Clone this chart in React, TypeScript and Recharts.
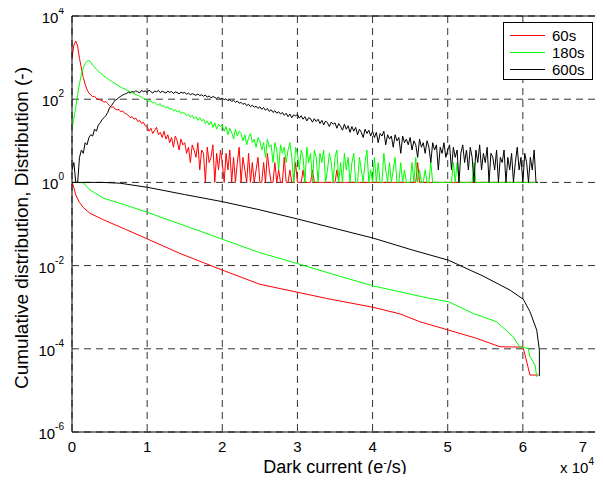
import React from 'react';
import { LineChart, Line, XAxis, YAxis, CartesianGrid, ReferenceLine } from 'recharts';

const FONT = '"Liberation Sans", Arial, Helvetica, sans-serif';

// histogram bins (dark current, e-/s)
const binStep = 250;
const binCount = 249;
const binX: number[] = Array.from({ length: binCount }, (_, i) => i * binStep);

const hist60s = [
  1000, 2000, 2500, 1900, 950, 560, 330, 230, 170, 140,
  128, 115, 118, 104, 100, 96, 92, 85, 88, 78,
  70, 63, 66, 58, 55, 57, 50, 52, 46, 44,
  41, 36, 38, 33, 35, 29, 31, 26, 28, 23,
  22, 17, 20, 15, 18, 21, 14, 16, 12, 17,
  11, 14, 9, 12, 7, 13, 10, 6, 11, 8,
  9, 5, 7, 3, 8, 6, 4, 9, 2, 6,
  5, 1, 7, 3, 4, 8, 1, 5, 2, 6,
  3, 1, 5, 2, 6, 1, 4, 1, 3, 7,
  1, 4, 2, 1, 5, 1, 3, 1, 2, 4,
  1, 1, 3, 1, 5, 2, 1, 1, 3, 1,
  2, 1, 1, 4, 1, 1, 2, 1, 1, 3,
  1, 1, 1, 2, 1, 1, 1, 1, 2, 1,
  1, 1, 1, 1, 1, 1, 1, 1, 1, 1,
  1, 2, 1, 1, 1, 1, 1, 1, 1, 1,
  1, 1, 1, 1, 1, 1, 1, 1, 1, 1,
  1, 1, 1, 1, 1, 1, 1, 1, 1, 1,
  1, 1, 1, 1, 1, 1, 1, 1, 1, 1,
  1, 1, 1, 1, 3, 1, 1, 1, 1, 1,
  1, 1, 1, 1, 1, 1, 1, 1, 1, 1,
  1, 1, 1, 1, 1, 1, 1, 1, 1, 1,
  1, 1, 1, 1, 1, 1, 1, 1, 1, 1,
  1, 1, 1, 1, 1, 1, 1, 1, 1, 1,
  1, 1, 1, 1, 1, 1, 1, 1, 1, 1,
  1, 1, 1, 1, 1, 1, 1, 1, 1,
];

const hist180s = [
  20, 35, 65, 130, 240, 400, 560, 720, 820, 850,
  780, 650, 590, 520, 470, 430, 395, 360, 335, 310,
  290, 270, 250, 238, 222, 205, 195, 182, 178, 165,
  158, 150, 142, 138, 128, 124, 118, 112, 104, 99,
  94, 88, 92, 80, 84, 76, 72, 78, 66, 70,
  62, 66, 57, 60, 52, 56, 49, 53, 45, 48,
  46, 40, 44, 37, 41, 34, 38, 31, 36, 30,
  33, 26, 30, 24, 29, 21, 27, 19, 25, 22,
  24, 17, 22, 14, 20, 16, 11, 19, 13, 17,
  15, 10, 14, 8, 12, 15, 9, 11, 7, 12,
  10, 6, 9, 4, 11, 7, 8, 3, 9, 6,
  2, 8, 5, 7, 3, 6, 9, 4, 1, 7,
  5, 2, 6, 4, 1, 7, 3, 5, 1, 6,
  4, 1, 5, 3, 6, 1, 2, 5, 3, 1,
  4, 6, 1, 3, 1, 5, 2, 4, 1, 3,
  5, 1, 1, 4, 2, 1, 3, 6, 1, 2,
  1, 4, 1, 3, 1, 1, 5, 2, 1, 3,
  1, 2, 4, 1, 1, 3, 1, 2, 1, 1,
  1, 3, 1, 4, 1, 2, 1, 1, 2, 1,
  1, 3, 1, 1, 1, 1, 1, 1, 1, 1,
  1, 1, 1, 3, 1, 3, 1, 1, 1, 1,
  1, 1, 1, 1, 3, 1, 1, 1, 1, 1,
  1, 1, 1, 1, 1, 1, 1, 1, 1, 1,
  1, 1, 1, 1, 1, 1, 1, 1, 1, 1,
  1, 1, 1, 1, 1, 1, 1, 1, 1,
];

const hist600s = [
  2, 3, 1, 1, 4, 6, 5, 9, 8, 12,
  14, 13, 19, 17, 24, 27, 32, 36, 40, 48,
  62, 70, 82, 95, 100, 110, 118, 126, 132, 138,
  148, 140, 156, 146, 160, 150, 142, 162, 152, 158,
  146, 165, 152, 140, 158, 150, 162, 144, 155, 148,
  140, 156, 146, 152, 138, 150, 144, 135, 148, 140,
  145, 132, 140, 128, 136, 130, 124, 134, 122, 128,
  118, 126, 112, 120, 108, 116, 110, 104, 112, 100,
  106, 97, 102, 92, 98, 88, 94, 84, 90, 80,
  84, 75, 80, 70, 76, 66, 72, 64, 68, 60,
  66, 57, 63, 54, 60, 51, 56, 48, 53, 46,
  50, 44, 48, 41, 46, 38, 44, 36, 42, 40,
  43, 35, 40, 33, 38, 30, 36, 34, 28, 34,
  29, 33, 26, 31, 24, 30, 27, 22, 28, 25,
  27, 20, 26, 22, 18, 25, 19, 23, 16, 22,
  17, 21, 14, 19, 16, 12, 19, 15, 18, 13,
  17, 12, 16, 9, 15, 13, 17, 8, 14, 11,
  13, 7, 14, 10, 12, 5, 13, 9, 11, 8,
  12, 6, 10, 8, 4, 11, 7, 9, 5, 10,
  7, 3, 9, 6, 8, 2, 7, 5, 9, 4,
  6, 8, 2, 7, 4, 6, 1, 5, 8, 3,
  6, 2, 7, 4, 1, 6, 3, 8, 2, 5,
  3, 7, 1, 5, 4, 2, 6, 1, 4, 3,
  6, 1, 4, 2, 5, 1, 3, 7, 2, 4,
  1, 5, 3, 1, 4, 2, 6, 1, 1,
];

// cumulative distributions
const cum60sX = [0, 250, 500, 1000, 1500, 2400, 4200, 7000, 10000, 14400, 20000, 25000, 30000, 33900, 40000, 43650, 46300, 50100, 53860, 56960, 59620, 60000, 60290, 60950, 62060];
const cum60sY = [1, 0.75, 0.5, 0.33, 0.25, 0.18, 0.126, 0.076, 0.044, 0.0195, 0.0078, 0.00355, 0.00229, 0.00162, 0.001, 0.00069, 0.000447, 0.000282, 0.000178, 0.000112, 0.00011, 0.00011, 0.000071, 0.0000234, 0.0000234];

const cum180sX = [0, 1500, 2400, 4170, 7000, 10070, 15000, 19920, 25000, 30000, 35000, 40100, 43650, 47650, 50100, 53400, 56500, 58700, 59620, 60700, 60950, 61620, 61850];
const cum180sY = [1, 0.98, 0.66, 0.417, 0.29, 0.19, 0.091, 0.0437, 0.0204, 0.0112, 0.006, 0.00324, 0.00234, 0.00162, 0.00135, 0.00071, 0.000447, 0.000195, 0.00011, 0.000102, 0.000065, 0.000041, 0.000021];

const cum600sX = [0, 4000, 6400, 10070, 15000, 19920, 25000, 30000, 35000, 40100, 45400, 50100, 54700, 58300, 60060, 60950, 61850, 62200, 62200];
const cum600sY = [1, 1, 0.955, 0.76, 0.51, 0.347, 0.219, 0.132, 0.078, 0.0457, 0.0234, 0.0135, 0.0056, 0.00257, 0.00155, 0.00078, 0.00028, 0.000093, 0.000022];

const xTicks = [0, 10000, 20000, 30000, 40000, 50000, 60000, 70000];
const yTicks = [1e-6, 1e-4, 1e-2, 1, 1e2, 1e4];

const seriesNames = ['60s', '180s', '600s'];
const seriesColors = ['#ff0000', '#00ff00', '#000000'];

const toPoints = (xs: number[], ys: number[]) => xs.map((x, i) => ({ x, y: ys[i] }));

const histSeries = [hist60s, hist180s, hist600s].map((ys) => toPoints(binX, ys));
const cumSeries = [
  toPoints(cum60sX, cum60sY),
  toPoints(cum180sX, cum180sY),
  toPoints(cum600sX, cum600sY),
];

const YTick = (props: any) => {
  const { x, y, payload } = props;
  const exp = Math.round(Math.log10(payload.value));
  return (
    <text x={x} y={y} textAnchor="end" fontSize={15} fill="#000" fontFamily={FONT}>
      <tspan dy={7}>10</tspan>
      <tspan dy={-9} fontSize={10}>{exp}</tspan>
    </text>
  );
};

const XTick = (props: any) => {
  const { x, y, payload } = props;
  return (
    <text x={x} y={y} dy={12} textAnchor="middle" fontSize={15} fill="#000" fontFamily={FONT}>
      {payload.value / 10000}
    </text>
  );
};

const XLabel = (props: any) => {
  const { viewBox } = props;
  const cx = viewBox.x + viewBox.width / 2;
  const right = viewBox.x + viewBox.width - 4;
  const baseY = viewBox.y + 41;
  return (
    <g fontFamily={FONT} fill="#000">
      <text x={cx} y={baseY} textAnchor="middle" fontSize={18}>
        <tspan>Dark current (e</tspan>
        <tspan dy={-7} fontSize={11}>-</tspan>
        <tspan dy={7}>/s)</tspan>
      </text>
      <text x={right} y={baseY} textAnchor="end" fontSize={15}>
        <tspan>x 10</tspan>
        <tspan dy={-8} fontSize={10}>4</tspan>
      </text>
    </g>
  );
};

const Y_LABEL_X = 28;
const Y_LABEL_CY = 228;

const YLabel = () => (
  <text
    x={Y_LABEL_X}
    y={Y_LABEL_CY}
    transform={`rotate(-90, ${Y_LABEL_X}, ${Y_LABEL_CY})`}
    textAnchor="middle"
    fontSize={19}
    fill="#000"
    fontFamily={FONT}
  >
    Cumulative distribution, Distribution (-)
  </text>
);

export default function App() {
  return (
    <div
      style={{
        position: 'relative',
        width: 603,
        height: 482,
        marginTop: -8,
        marginLeft: -8,
        marginBottom: -8,
        overflow: 'hidden',
      }}
    >
      <LineChart
        width={603}
        height={482}
        margin={{ top: 16, right: 5, bottom: 0, left: 8 }}
      >
        <CartesianGrid stroke="#333" strokeDasharray="7 5" strokeWidth={1} />
        <XAxis
          type="number"
          dataKey="x"
          domain={[0, 70000]}
          ticks={xTicks}
          allowDataOverflow
          height={50}
          tickLine={false}
          axisLine={{ stroke: '#000', strokeWidth: 1 }}
          tick={<XTick />}
          label={<XLabel />}
        />
        <YAxis
          type="number"
          scale="log"
          domain={[1e-6, 1e4]}
          ticks={yTicks}
          allowDataOverflow
          width={64}
          tickLine={false}
          axisLine={{ stroke: '#000', strokeWidth: 1 }}
          tick={<YTick />}
          label={<YLabel />}
        />
        <ReferenceLine y={1e4} stroke="#000" strokeWidth={1} />
        <ReferenceLine x={70000} stroke="#000" strokeWidth={1} />
        {histSeries.map((d, i) => (
          <Line
            key={'h' + i}
            data={d}
            dataKey="y"
            type="linear"
            stroke={seriesColors[i]}
            strokeWidth={1}
            dot={false}
            activeDot={false}
            isAnimationActive={false}
          />
        ))}
        {cumSeries.map((d, i) => (
          <Line
            key={'c' + i}
            data={d}
            dataKey="y"
            type="linear"
            stroke={seriesColors[i]}
            strokeWidth={1}
            dot={false}
            activeDot={false}
            isAnimationActive={false}
          />
        ))}
      </LineChart>
      <div
        style={{
          position: 'absolute',
          left: 503,
          top: 22,
          width: 90,
          height: 58,
          border: '1px solid #000',
          background: '#fff',
          fontFamily: FONT,
          fontSize: 15,
          boxSizing: 'border-box',
          paddingTop: 4,
        }}
      >
        {seriesNames.map((n, i) => (
          <div key={n} style={{ display: 'flex', alignItems: 'center', height: 17 }}>
            <svg width={42} height={17} style={{ display: 'block' }}>
              <line x1={6} x2={41} y1={8.5} y2={8.5} stroke={seriesColors[i]} strokeWidth={1.2} />
            </svg>
            <span style={{ marginLeft: 6, lineHeight: '17px', color: '#000' }}>{n}</span>
          </div>
        ))}
      </div>
    </div>
  );
}
